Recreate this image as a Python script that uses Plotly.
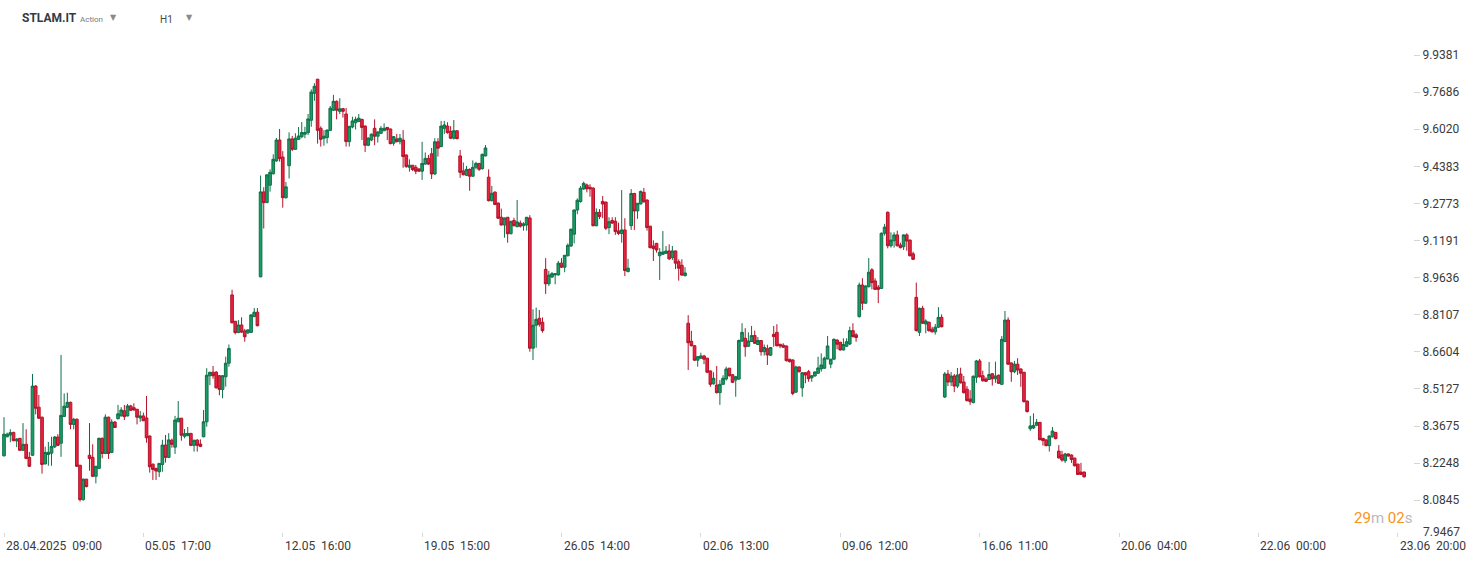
import plotly.graph_objects as go

# ---------------- data (hourly bars, 28.04.2025 09:00 -> 19.06.2025 17:00) ----------------
open_ = [
    8.253, 8.326, 8.333, 8.343, 8.310, 8.320, 8.274, 8.297, 8.247, 8.255,
    8.524, 8.441, 8.402, 8.222, 8.258, 8.263, 8.287, 8.325, 8.301, 8.405,
    8.441, 8.460, 8.374, 8.394, 8.217, 8.087, 8.164, 8.255, 8.247, 8.175,
    8.205, 8.320, 8.262, 8.402, 8.266, 8.383, 8.396, 8.407, 8.427, 8.407,
    8.446, 8.439, 8.433, 8.399, 8.407, 8.399, 8.329, 8.221, 8.205, 8.192,
    8.220, 8.294, 8.247, 8.313, 8.286, 8.384, 8.398, 8.328, 8.330, 8.339,
    8.293, 8.313, 8.298, 8.326, 8.384, 8.565, 8.579, 8.579, 8.565, 8.511,
    8.561, 8.615, 8.892, 8.784, 8.738, 8.769, 8.745, 8.737, 8.739, 8.803,
    8.821, 8.967, 9.327, 9.281, 9.356, 9.406, 9.462, 9.554, 9.479, 9.302,
    9.441, 9.559, 9.513, 9.557, 9.569, 9.580, 9.587, 9.642, 9.763, 9.827,
    9.606, 9.562, 9.565, 9.597, 9.687, 9.727, 9.682, 9.694, 9.670, 9.547,
    9.612, 9.631, 9.636, 9.646, 9.616, 9.531, 9.554, 9.606, 9.571, 9.584,
    9.595, 9.610, 9.603, 9.540, 9.559, 9.547, 9.554, 9.488, 9.434, 9.443,
    9.434, 9.427, 9.417, 9.448, 9.473, 9.493, 9.405, 9.546, 9.525, 9.606,
    9.616, 9.593, 9.562, 9.595, 9.484, 9.418, 9.399, 9.425, 9.395, 9.434,
    9.451, 9.428, 9.484, 9.391, 9.289, 9.326, 9.279, 9.218, 9.185, 9.218,
    9.148, 9.204, 9.178, 9.193, 9.182, 9.185, 9.215, 8.675, 8.768, 8.796,
    8.780, 8.998, 8.938, 8.966, 8.975, 8.975, 9.024, 9.007, 9.055, 9.096,
    9.146, 9.249, 9.285, 9.340, 9.357, 9.347, 9.343, 9.182, 9.239, 9.286,
    9.283, 9.174, 9.204, 9.201, 9.160, 9.149, 9.164, 8.989, 9.182, 9.320,
    9.245, 9.275, 9.325, 9.292, 9.180, 9.096, 9.107, 9.055, 9.061, 9.065,
    9.075, 9.047, 9.075, 9.030, 9.015, 8.972, 8.776, 8.703, 8.685, 8.627,
    8.635, 8.644, 8.635, 8.584, 8.533, 8.528, 8.498, 8.531, 8.552, 8.595,
    8.569, 8.548, 8.552, 8.704, 8.715, 8.683, 8.702, 8.726, 8.690, 8.706,
    8.661, 8.673, 8.647, 8.731, 8.739, 8.691, 8.687, 8.684, 8.631, 8.628,
    8.500, 8.600, 8.517, 8.577, 8.581, 8.557, 8.564, 8.575, 8.592, 8.595,
    8.632, 8.611, 8.631, 8.708, 8.699, 8.668, 8.683, 8.692, 8.746, 8.729,
    8.803, 8.933, 8.858, 8.926, 8.996, 8.950, 8.924, 8.919, 9.150, 9.239,
    9.097, 9.118, 9.143, 9.100, 9.093, 9.143, 9.121, 9.063, 8.882, 8.739,
    8.837, 8.773, 8.780, 8.752, 8.741, 8.760, 8.800, 8.481, 8.572, 8.540,
    8.564, 8.524, 8.572, 8.540, 8.512, 8.473, 8.459, 8.559, 8.624, 8.565,
    8.552, 8.550, 8.573, 8.553, 8.567, 8.531, 8.702, 8.789, 8.616, 8.581,
    8.611, 8.592, 8.579, 8.465, 8.357, 8.360, 8.371, 8.382, 8.320, 8.314,
    8.292, 8.326, 8.343, 8.271, 8.256, 8.234, 8.260, 8.256, 8.244, 8.221,
    8.191, 8.191,
]
high = [
    8.402, 8.342, 8.355, 8.345, 8.321, 8.321, 8.379, 8.355, 8.268, 8.572,
    8.528, 8.489, 8.404, 8.288, 8.306, 8.326, 8.329, 8.336, 8.648, 8.495,
    8.498, 8.463, 8.399, 8.397, 8.218, 8.166, 8.165, 8.379, 8.297, 8.214,
    8.323, 8.323, 8.413, 8.404, 8.394, 8.387, 8.450, 8.441, 8.450, 8.454,
    8.450, 8.456, 8.434, 8.426, 8.420, 8.485, 8.331, 8.223, 8.207, 8.225,
    8.314, 8.333, 8.340, 8.319, 8.407, 8.465, 8.399, 8.356, 8.364, 8.341,
    8.314, 8.317, 8.316, 8.430, 8.595, 8.580, 8.604, 8.584, 8.568, 8.568,
    8.641, 8.690, 8.913, 8.785, 8.789, 8.800, 8.753, 8.751, 8.813, 8.838,
    8.838, 9.398, 9.347, 9.403, 9.425, 9.491, 9.563, 9.603, 9.505, 9.370,
    9.588, 9.572, 9.584, 9.612, 9.634, 9.613, 9.670, 9.781, 9.809, 9.829,
    9.615, 9.598, 9.601, 9.706, 9.756, 9.731, 9.741, 9.697, 9.697, 9.616,
    9.658, 9.658, 9.670, 9.648, 9.619, 9.565, 9.583, 9.646, 9.592, 9.616,
    9.628, 9.612, 9.605, 9.572, 9.581, 9.581, 9.598, 9.490, 9.469, 9.444,
    9.444, 9.429, 9.546, 9.499, 9.488, 9.519, 9.562, 9.562, 9.639, 9.639,
    9.633, 9.616, 9.643, 9.598, 9.510, 9.455, 9.440, 9.429, 9.464, 9.458,
    9.453, 9.494, 9.532, 9.425, 9.353, 9.329, 9.281, 9.255, 9.217, 9.219,
    9.202, 9.216, 9.292, 9.204, 9.197, 9.219, 9.227, 8.833, 8.840, 8.830,
    8.800, 9.045, 8.992, 8.987, 8.982, 9.033, 9.045, 9.058, 9.107, 9.170,
    9.251, 9.299, 9.352, 9.371, 9.363, 9.360, 9.348, 9.256, 9.253, 9.309,
    9.285, 9.218, 9.218, 9.218, 9.195, 9.335, 9.214, 9.042, 9.339, 9.323,
    9.279, 9.333, 9.344, 9.294, 9.181, 9.120, 9.109, 9.087, 9.159, 9.096,
    9.103, 9.096, 9.077, 9.040, 9.040, 9.007, 8.809, 8.745, 8.688, 8.644,
    8.657, 8.648, 8.636, 8.586, 8.579, 8.604, 8.548, 8.567, 8.601, 8.596,
    8.572, 8.564, 8.710, 8.776, 8.756, 8.739, 8.765, 8.746, 8.720, 8.708,
    8.690, 8.689, 8.680, 8.765, 8.772, 8.692, 8.695, 8.686, 8.632, 8.630,
    8.605, 8.602, 8.580, 8.580, 8.588, 8.568, 8.582, 8.641, 8.654, 8.641,
    8.724, 8.632, 8.714, 8.710, 8.701, 8.715, 8.715, 8.762, 8.776, 8.736,
    8.943, 8.961, 8.931, 9.045, 9.003, 8.961, 8.933, 9.153, 9.190, 9.243,
    9.154, 9.154, 9.161, 9.110, 9.145, 9.150, 9.123, 9.072, 8.943, 8.840,
    8.847, 8.792, 8.783, 8.762, 8.773, 8.842, 8.812, 8.580, 8.588, 8.580,
    8.572, 8.596, 8.597, 8.564, 8.524, 8.508, 8.566, 8.628, 8.632, 8.585,
    8.559, 8.620, 8.576, 8.621, 8.570, 8.724, 8.826, 8.800, 8.618, 8.624,
    8.635, 8.594, 8.580, 8.467, 8.407, 8.417, 8.395, 8.383, 8.321, 8.316,
    8.331, 8.364, 8.344, 8.294, 8.272, 8.264, 8.262, 8.258, 8.246, 8.223,
    8.226, 8.193,
]
low = [
    8.250, 8.324, 8.305, 8.309, 8.286, 8.272, 8.272, 8.240, 8.210, 8.252,
    8.413, 8.395, 8.185, 8.220, 8.215, 8.215, 8.283, 8.290, 8.249, 8.403,
    8.438, 8.355, 8.355, 8.210, 8.080, 8.083, 8.133, 8.196, 8.172, 8.148,
    8.202, 8.243, 8.259, 8.241, 8.263, 8.360, 8.393, 8.405, 8.391, 8.405,
    8.426, 8.428, 8.374, 8.384, 8.387, 8.303, 8.189, 8.161, 8.161, 8.172,
    8.192, 8.227, 8.244, 8.284, 8.260, 8.383, 8.311, 8.320, 8.329, 8.290,
    8.269, 8.269, 8.286, 8.324, 8.365, 8.528, 8.553, 8.515, 8.488, 8.476,
    8.522, 8.601, 8.775, 8.731, 8.736, 8.737, 8.701, 8.732, 8.736, 8.801,
    8.763, 8.965, 9.170, 9.278, 9.328, 9.402, 9.458, 9.459, 9.259, 9.298,
    9.385, 9.505, 9.510, 9.554, 9.562, 9.562, 9.576, 9.613, 9.729, 9.538,
    9.525, 9.529, 9.539, 9.594, 9.684, 9.646, 9.670, 9.654, 9.525, 9.525,
    9.606, 9.601, 9.634, 9.554, 9.501, 9.527, 9.549, 9.531, 9.543, 9.580,
    9.594, 9.554, 9.535, 9.529, 9.543, 9.535, 9.432, 9.432, 9.415, 9.418,
    9.404, 9.414, 9.379, 9.446, 9.444, 9.383, 9.401, 9.481, 9.522, 9.581,
    9.582, 9.558, 9.556, 9.557, 9.388, 9.398, 9.396, 9.332, 9.392, 9.425,
    9.418, 9.424, 9.482, 9.286, 9.286, 9.270, 9.211, 9.183, 9.131, 9.110,
    9.145, 9.179, 9.175, 9.174, 9.161, 9.161, 8.661, 8.628, 8.677, 8.762,
    8.738, 8.896, 8.929, 8.962, 8.936, 8.972, 9.004, 8.986, 9.052, 9.092,
    9.107, 9.231, 9.281, 9.336, 9.325, 9.306, 9.179, 9.179, 9.210, 9.214,
    9.164, 9.146, 9.190, 9.143, 9.143, 9.110, 8.970, 8.985, 9.164, 9.164,
    9.211, 9.273, 9.281, 9.161, 9.086, 9.033, 9.068, 8.954, 9.058, 9.063,
    9.037, 9.037, 8.999, 8.951, 8.972, 8.968, 8.588, 8.682, 8.624, 8.601,
    8.632, 8.611, 8.575, 8.521, 8.530, 8.495, 8.450, 8.528, 8.546, 8.562,
    8.536, 8.482, 8.548, 8.700, 8.641, 8.680, 8.700, 8.692, 8.688, 8.645,
    8.645, 8.608, 8.644, 8.681, 8.682, 8.675, 8.676, 8.622, 8.618, 8.488,
    8.497, 8.578, 8.482, 8.535, 8.541, 8.541, 8.562, 8.572, 8.581, 8.592,
    8.630, 8.595, 8.628, 8.671, 8.666, 8.666, 8.680, 8.688, 8.718, 8.701,
    8.799, 8.830, 8.855, 8.923, 8.915, 8.912, 8.858, 8.917, 9.140, 9.086,
    9.089, 9.089, 9.094, 9.086, 9.079, 9.076, 9.052, 9.037, 8.743, 8.724,
    8.773, 8.735, 8.742, 8.739, 8.730, 8.757, 8.759, 8.477, 8.524, 8.524,
    8.500, 8.516, 8.534, 8.495, 8.463, 8.450, 8.456, 8.537, 8.558, 8.542,
    8.540, 8.548, 8.526, 8.537, 8.532, 8.528, 8.699, 8.608, 8.541, 8.575,
    8.568, 8.521, 8.459, 8.420, 8.349, 8.356, 8.367, 8.312, 8.292, 8.289,
    8.269, 8.323, 8.316, 8.242, 8.230, 8.226, 8.250, 8.226, 8.212, 8.180,
    8.180, 8.170,
]
close = [
    8.336, 8.336, 8.342, 8.311, 8.317, 8.274, 8.297, 8.243, 8.213, 8.524,
    8.437, 8.398, 8.220, 8.266, 8.266, 8.289, 8.325, 8.293, 8.409, 8.445,
    8.460, 8.374, 8.394, 8.213, 8.087, 8.164, 8.136, 8.243, 8.175, 8.213,
    8.320, 8.262, 8.402, 8.262, 8.383, 8.362, 8.415, 8.430, 8.404, 8.446,
    8.429, 8.430, 8.402, 8.407, 8.388, 8.322, 8.211, 8.201, 8.195, 8.224,
    8.294, 8.247, 8.314, 8.297, 8.391, 8.398, 8.332, 8.338, 8.339, 8.293,
    8.313, 8.293, 8.289, 8.384, 8.567, 8.579, 8.565, 8.517, 8.511, 8.565,
    8.615, 8.674, 8.778, 8.738, 8.769, 8.740, 8.721, 8.749, 8.810, 8.821,
    8.766, 9.327, 9.281, 9.401, 9.412, 9.469, 9.554, 9.472, 9.302, 9.349,
    9.559, 9.513, 9.562, 9.572, 9.587, 9.587, 9.648, 9.769, 9.795, 9.597,
    9.557, 9.571, 9.598, 9.696, 9.727, 9.687, 9.693, 9.682, 9.547, 9.615,
    9.639, 9.646, 9.651, 9.610, 9.531, 9.563, 9.580, 9.571, 9.590, 9.606,
    9.606, 9.600, 9.538, 9.569, 9.547, 9.562, 9.481, 9.437, 9.443, 9.424,
    9.417, 9.417, 9.451, 9.473, 9.448, 9.405, 9.546, 9.518, 9.616, 9.621,
    9.587, 9.562, 9.595, 9.560, 9.412, 9.402, 9.425, 9.395, 9.434, 9.451,
    9.425, 9.491, 9.519, 9.289, 9.321, 9.273, 9.214, 9.185, 9.215, 9.148,
    9.201, 9.182, 9.198, 9.180, 9.190, 9.218, 8.675, 8.768, 8.792, 8.772,
    8.746, 8.938, 8.974, 8.980, 8.980, 9.024, 9.007, 9.057, 9.099, 9.167,
    9.249, 9.291, 9.343, 9.364, 9.340, 9.340, 9.182, 9.239, 9.221, 9.275,
    9.171, 9.199, 9.193, 9.157, 9.149, 9.164, 8.993, 9.003, 9.320, 9.245,
    9.278, 9.329, 9.284, 9.174, 9.089, 9.085, 9.079, 9.070, 9.071, 9.075,
    9.042, 9.075, 9.024, 9.003, 8.974, 8.983, 8.697, 8.685, 8.627, 8.641,
    8.644, 8.631, 8.579, 8.531, 8.555, 8.498, 8.531, 8.555, 8.592, 8.565,
    8.539, 8.561, 8.706, 8.739, 8.681, 8.704, 8.726, 8.695, 8.706, 8.661,
    8.678, 8.648, 8.678, 8.722, 8.685, 8.684, 8.679, 8.625, 8.621, 8.495,
    8.600, 8.581, 8.577, 8.568, 8.553, 8.565, 8.580, 8.596, 8.608, 8.635,
    8.684, 8.631, 8.711, 8.691, 8.668, 8.690, 8.701, 8.746, 8.722, 8.718,
    8.933, 8.858, 8.929, 8.986, 8.943, 8.915, 8.915, 9.150, 9.176, 9.097,
    9.121, 9.143, 9.097, 9.089, 9.143, 9.117, 9.055, 9.040, 8.746, 8.837,
    8.776, 8.785, 8.746, 8.741, 8.760, 8.800, 8.762, 8.572, 8.540, 8.564,
    8.524, 8.568, 8.537, 8.498, 8.467, 8.463, 8.563, 8.624, 8.561, 8.545,
    8.543, 8.570, 8.553, 8.564, 8.535, 8.711, 8.789, 8.611, 8.581, 8.611,
    8.588, 8.575, 8.463, 8.424, 8.368, 8.370, 8.382, 8.315, 8.311, 8.292,
    8.329, 8.348, 8.319, 8.245, 8.237, 8.260, 8.252, 8.239, 8.215, 8.182,
    8.182, 8.173,
]

# bar index on the time axis (trading hours only, 9 bars per day)
bar_idx = list(range(len(close)))

# time-axis labels (bar index where each label starts) and texts
x_tick_idx = [0, 44, 88, 132, 176, 220, 264, 308, 352, 396, 440]
x_tick_text = ["28.04.2025\u00a0 09:00", "05.05\u00a0 17:00", "12.05\u00a0 16:00",
               "19.05\u00a0 15:00", "26.05\u00a0 14:00", "02.06\u00a0 13:00",
               "09.06\u00a0 12:00", "16.06\u00a0 11:00", "20.06\u00a0 04:00",
               "22.06\u00a0 00:00", "23.06\u00a0 20:00"]

# price-axis labels (logarithmic scale)
y_tick_vals = [9.9381, 9.7686, 9.6020, 9.4383, 9.2773, 9.1191, 8.9636,
               8.8107, 8.6604, 8.5127, 8.3675, 8.2248, 8.0845]
y_tick_text = ["%.4f" % v for v in y_tick_vals]
y_bottom_label = "7.9467"

symbol = "STLAM.IT"
symbol_kind = "Action"
interval = "H1"
countdown_min, countdown_sec = "29", "02"

# ---------------- figure ----------------
W, H = 1482, 563
M_T, M_B = 40, 26
PLOT_H = H - M_T - M_B


def px_x(px):
    return px / W


def px_y(py):
    return (H - M_B - py) / PLOT_H


GREEN_FILL, GREEN_LINE = "#1b9b66", "#0f7049"
RED_FILL, RED_LINE = "#e8243c", "#b1122a"

fig = go.Figure(go.Candlestick(
    x=bar_idx, open=open_, high=high, low=low, close=close,
    increasing=dict(fillcolor=GREEN_FILL, line=dict(color=GREEN_LINE, width=1)),
    decreasing=dict(fillcolor=RED_FILL, line=dict(color=RED_LINE, width=1)),
    whiskerwidth=0, showlegend=False, hoverinfo="skip",
))

AX_FONT = dict(family="Roboto, Arial, sans-serif", size=12, color="#3a3a3a")

annotations = []
for idx, txt in zip(x_tick_idx, x_tick_text):
    annotations.append(dict(x=idx, xref="x", y=px_y(546), yref="paper",
                            text=txt, showarrow=False, xanchor="left",
                            yanchor="middle", font=AX_FONT))
annotations.append(dict(x=px_x(1421), xref="paper", y=px_y(532), yref="paper",
                        text=y_bottom_label, showarrow=False, xanchor="left",
                        yanchor="middle", font=AX_FONT))
annotations.append(dict(
    x=px_x(1414), xref="paper", y=px_y(518), yref="paper", showarrow=False,
    xanchor="right", yanchor="middle",
    font=dict(family="Roboto, Arial, sans-serif", size=15),
    text=(f'<span style="color:#f7931e">{countdown_min}</span>'
          f'<span style="color:#b9b9b9">m </span>'
          f'<span style="color:#f7931e">{countdown_sec}</span>'
          f'<span style="color:#b9b9b9">s</span>')))
# header
annotations += [
    dict(x=px_x(20), xref="paper", y=px_y(18), yref="paper", text=f"<b>{symbol}</b>",
         showarrow=False, xanchor="left", yanchor="middle",
         font=dict(family="Roboto, Arial, sans-serif", size=12, color="#333b45")),
    dict(x=px_x(78), xref="paper", y=px_y(19), yref="paper", text=symbol_kind,
         showarrow=False, xanchor="left", yanchor="middle",
         font=dict(family="Roboto, Arial, sans-serif", size=8, color="#7a7a7a")),
    dict(x=px_x(113), xref="paper", y=px_y(17), yref="paper", text="▼",
         showarrow=False, xanchor="center", yanchor="middle",
         font=dict(family="DejaVu Sans", size=8, color="#8a8a8a")),
    dict(x=px_x(158), xref="paper", y=px_y(19), yref="paper", text=interval,
         showarrow=False, xanchor="left", yanchor="middle",
         font=dict(family="Roboto, Arial, sans-serif", size=10, color="#4a4a4a")),
    dict(x=px_x(190), xref="paper", y=px_y(17), yref="paper", text="▼",
         showarrow=False, xanchor="center", yanchor="middle",
         font=dict(family="DejaVu Sans", size=8, color="#8a8a8a")),
]

# axis ranges: bar 0 centred at x=4px, 3.1676 px per bar; log price scale
PX_PER_BAR = 3.1676
x_range = [-4 / PX_PER_BAR, (W - 4) / PX_PER_BAR]

fig.update_layout(
    width=W, height=H,
    margin=dict(l=0, r=0, t=M_T, b=M_B, pad=0),
    paper_bgcolor="white", plot_bgcolor="white",
    font=AX_FONT,
    annotations=annotations,
    boxgap=0.12, boxgroupgap=0.05,
    xaxis=dict(range=x_range, showgrid=False, zeroline=False, showline=False,
               tickmode="array", tickvals=x_tick_idx, showticklabels=False,
               ticks="inside", ticklen=4, tickcolor="#d6d6d6",
               rangeslider=dict(visible=False), fixedrange=True),
    yaxis=dict(type="log", range=[0.900259, 1.000325], side="right",
               anchor="free", position=px_x(1413),
               tickmode="array", tickvals=y_tick_vals, ticktext=y_tick_text,
               ticks="outside", ticklen=6, tickcolor="#d6d6d6", tickwidth=1,
               showgrid=False, zeroline=False, showline=False,
               tickfont=AX_FONT, fixedrange=True),
)

fig.write_html("out.html", config=dict(displayModeBar=False),
               post_script="document.body.style.margin='0';document.body.style.overflow='hidden';")
